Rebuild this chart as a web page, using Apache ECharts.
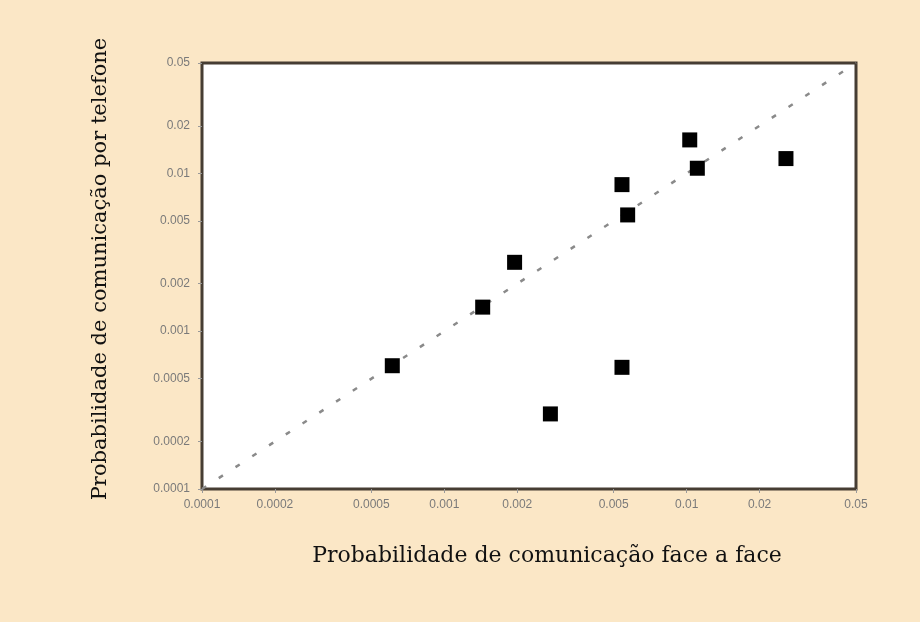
<!DOCTYPE html>
<html>
<head>
<meta charset="utf-8">
<script src="https://cdn.jsdelivr.net/npm/echarts@6/dist/echarts.min.js"></script>
<style>
html,body{margin:0;padding:0;background:#fbe7c6;}
#chart{width:920px;height:622px;}
</style>
</head>
<body>
<div id="chart"></div>
<script>
// Data (log-log scatter)
const faceToFace = [0.00061, 0.00144, 0.00195, 0.00274, 0.00541, 0.00571, 0.00541, 0.0103, 0.01107, 0.0257];
const telephone  = [0.000604, 0.00142, 0.00273, 0.000299, 0.00848, 0.00545, 0.00059, 0.01628, 0.01077, 0.0124];
const tickValues = [0.0001, 0.0002, 0.0005, 0.001, 0.002, 0.005, 0.01, 0.02, 0.05];
const diagonal = [0.0001, 0.05];
const xTitle = 'Probabilidade de comunicação face a face';
const yTitle = 'Probabilidade de comunicação por telefone';

const points = faceToFace.map((x, i) => [x, telephone[i]]);
const fmt = v => String(+(+v).toPrecision(3));

const labelStyle = {color: '#7a7a7a', fontSize: 12, fontFamily: 'Liberation Sans'};

const chart = echarts.init(document.getElementById('chart'));
chart.setOption({
  backgroundColor: '#fbe7c6',
  animation: false,
  grid: {left: 202, top: 63, width: 654, height: 426, show: true,
         backgroundColor: '#ffffff', borderColor: '#463d33', borderWidth: 3},
  xAxis: {
    type: 'log', logBase: 10, min: 0.0001, max: 0.05,
    axisLine: {show: false},
    splitLine: {show: false},
    axisTick: {show: true, customValues: tickValues, length: 4, lineStyle: {color: '#999'}},
    axisLabel: Object.assign({customValues: tickValues, margin: 10, formatter: fmt}, labelStyle)
  },
  yAxis: {
    type: 'log', logBase: 10, min: 0.0001, max: 0.05,
    axisLine: {show: false},
    splitLine: {show: false},
    axisTick: {show: true, customValues: tickValues, length: 4, lineStyle: {color: '#999'}},
    axisLabel: Object.assign({customValues: tickValues, margin: 12, formatter: fmt}, labelStyle)
  },
  series: [
    {
      type: 'line', silent: true, symbol: 'none',
      data: diagonal.map(v => [v, v]),
      lineStyle: {color: '#8a8a8a', width: 2.5, type: [5, 15]},
      z: 1
    },
    {
      type: 'scatter', symbol: 'rect', symbolSize: 15,
      itemStyle: {color: '#000000', opacity: 1},
      data: points, z: 2
    }
  ],
  graphic: [
    {type: 'text', x: 547, y: 556,
     style: {text: xTitle, font: '22px "DejaVu Serif"', fill: '#111',
             textAlign: 'center', textVerticalAlign: 'middle', align: 'center', verticalAlign: 'middle'}},
    {type: 'text', x: 101, y: 269, rotation: Math.PI / 2,
     style: {text: yTitle, font: '21px "DejaVu Serif"', fill: '#111',
             textAlign: 'center', textVerticalAlign: 'middle', align: 'center', verticalAlign: 'middle'}}
  ]
});
</script>
</body>
</html>
